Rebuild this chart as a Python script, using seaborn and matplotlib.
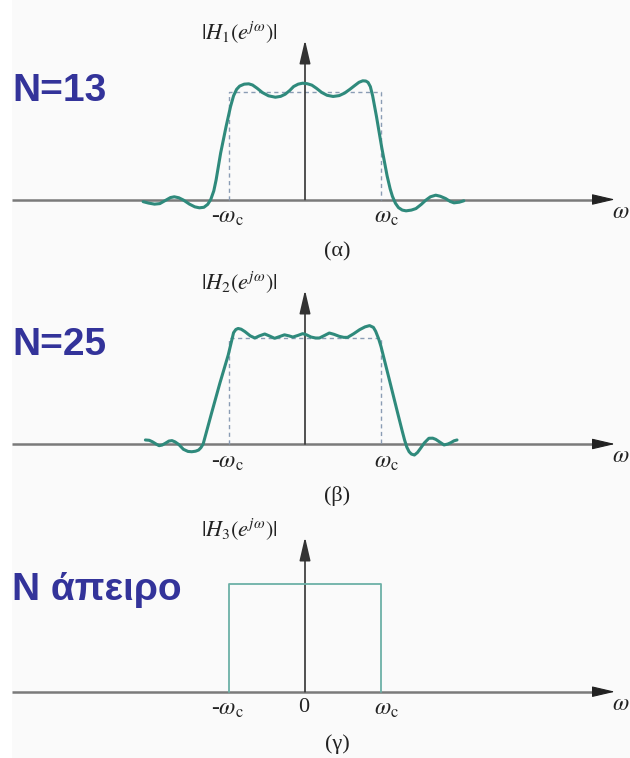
import matplotlib
matplotlib.use("Agg")
import matplotlib.pyplot as plt
import seaborn as sns
import pandas as pd

sns.set_theme(style="white")
plt.rcParams["mathtext.fontset"] = "stix"
plt.rcParams["font.family"] = ["Liberation Serif", "DejaVu Serif"]

# Frequency axis in units of the cutoff ω_c; magnitudes normalised to the passband level.
omega_13 = [-2.13, -2.06, -1.98, -1.91, -1.83, -1.77, -1.72, -1.66, -1.60, -1.52,
            -1.45, -1.39, -1.33, -1.28, -1.24, -1.20, -1.17, -1.11, -1.04, -0.98,
            -0.94, -0.90, -0.86, -0.80, -0.74, -0.69, -0.63, -0.56, -0.48, -0.39,
            -0.32, -0.26, -0.20, -0.15, -0.09, -0.03, 0.03, 0.09, 0.15, 0.22,
            0.29, 0.37, 0.45, 0.52, 0.59, 0.65, 0.71, 0.76, 0.80, 0.83,
            0.86, 0.89, 0.94, 1.01, 1.08, 1.12, 1.15, 1.19, 1.23, 1.28,
            1.33, 1.40, 1.46, 1.53, 1.59, 1.65, 1.72, 1.78, 1.85, 1.91,
            1.96, 2.03, 2.09]
mag_13 = [-0.02, -0.033, -0.043, -0.038, -0.006, 0.018, 0.025, 0.016, -0.005, -0.043,
          -0.068, -0.077, -0.072, -0.045, 0.0, 0.08, 0.18, 0.43, 0.67, 0.86,
          0.96, 1.02, 1.05, 1.068, 1.071, 1.06, 1.03, 0.99, 0.96, 0.947,
          0.955, 0.975, 1.01, 1.046, 1.068, 1.077, 1.072, 1.059, 1.03, 0.991,
          0.965, 0.954, 0.962, 0.985, 1.02, 1.053, 1.085, 1.099, 1.097, 1.084,
          1.045, 0.96, 0.77, 0.48, 0.22, 0.10, 0.03, -0.035, -0.075, -0.098,
          -0.105, -0.098, -0.084, -0.045, -0.006, 0.025, 0.04, 0.03, 0.009, -0.018,
          -0.031, -0.025, -0.012]

omega_25 = [-2.10, -2.05, -2.01, -1.96, -1.92, -1.88, -1.84, -1.79, -1.75, -1.71,
            -1.66, -1.60, -1.54, -1.49, -1.44, -1.40, -1.37, -1.34, -1.23, -1.12,
            -1.01, -0.97, -0.94, -0.91, -0.88, -0.84, -0.79, -0.72, -0.66, -0.60,
            -0.53, -0.47, -0.40, -0.34, -0.27, -0.21, -0.16, -0.09, -0.03, 0.02,
            0.08, 0.14, 0.19, 0.26, 0.32, 0.38, 0.45, 0.51, 0.56, 0.64,
            0.72, 0.79, 0.85, 0.90, 0.93, 0.97, 1.00, 1.11, 1.22, 1.28,
            1.31, 1.34, 1.37, 1.40, 1.44, 1.48, 1.52, 1.57, 1.63, 1.68,
            1.72, 1.78, 1.83, 1.88, 1.92, 1.96, 2.00]
mag_25 = [0.038, 0.035, 0.022, 0.0, -0.016, -0.01, 0.006, 0.028, 0.032, 0.02,
          -0.005, -0.05, -0.07, -0.073, -0.068, -0.057, -0.035, 0.0, 0.29, 0.574,
          0.84, 0.96, 1.05, 1.08, 1.09, 1.083, 1.06, 1.02, 1.0, 1.02,
          1.038, 1.02, 0.997, 1.012, 1.03, 1.02, 1.009, 1.025, 1.041, 1.03,
          1.009, 1.0, 1.0, 1.025, 1.047, 1.035, 1.016, 1.006, 1.006, 1.04,
          1.079, 1.105, 1.117, 1.1, 1.063, 0.99, 0.92, 0.606, 0.29, 0.12,
          0.038, -0.03, -0.073, -0.095, -0.104, -0.08, -0.041, 0.01, 0.054, 0.055,
          0.044, 0.015, -0.009, 0.0, 0.013, 0.03, 0.038]

omega_ideal = [-1.0, -1.0, 1.0, 1.0]
mag_ideal = [0.0, 1.0, 1.0, 0.0]

panel_tags = ["(α)", "(β)", "(γ)"]
n_labels = ["N=13", "N=25", "N άπειρο"]
y_labels = [r"$|H_1(e^{j\omega})|$", r"$|H_2(e^{j\omega})|$", r"$|H_3(e^{j\omega})|$"]

W, H = 630, 758
fig = plt.figure(figsize=(W / 100, H / 100), dpi=100)
fig.patch.set_facecolor("#fafafa")
fig.patches.append(plt.Rectangle((0, 0), 12 / W, 1, transform=fig.transFigure,
                                 facecolor="white", edgecolor="none", zorder=-1))

X0, XS = 305, 76.0  # pixel of ω = 0 and pixels per ω_c
# (band top px, band bottom px, baseline px, px per unit, arrow tip px)
bands = [(0, 258, 199.5, 108.0, 40),
         (258, 505, 444.0, 106.0, 290),
         (505, 758, 691.7, 107.4, 537)]

curve_col = "#2f8a7c"
ideal_col = "#6cb0a6"
dash_col = "#8a9cb4"
axis_col = "#7a7a7a"
label_col = "#33339a"
text_col = "#222222"


def fx(px):
    return px / W


def fy(py):
    return 1 - py / H


for i, (top, bot, base, scale, tip) in enumerate(bands):
    ax = fig.add_axes([0, 1 - bot / H, 1, (bot - top) / H])
    ax.set_xlim(-X0 / XS, (W - X0) / XS)
    ax.set_ylim(-(bot - base) / scale, (base - top) / scale)
    ax.axis("off")
    ax.patch.set_alpha(0)

    # horizontal and vertical axes with arrow heads
    ax.plot([(12 - X0) / XS, (600 - X0) / XS], [0, 0], color=axis_col, lw=1.8,
            solid_capstyle="butt", zorder=1)
    ax.annotate("", xy=((615 - X0) / XS, 0), xytext=((596 - X0) / XS, 0),
                arrowprops=dict(arrowstyle="-|>,head_length=1.2,head_width=0.28",
                                color="#222222", lw=0.8, shrinkA=0, shrinkB=0))
    ax.annotate("", xy=(0, (base - tip) / scale), xytext=(0, 0),
                arrowprops=dict(arrowstyle="-|>,head_length=1.2,head_width=0.28",
                                color="#333333", lw=1.2, shrinkA=0, shrinkB=0))

    if i < 2:
        # ideal passband drawn dashed behind the truncated response
        ax.plot([-1, -1, 1, 1], [0, 1, 1, 0], color=dash_col, lw=1.0,
                ls=(0, (3, 2.5)), zorder=2)
        om, mg = (omega_13, mag_13) if i == 0 else (omega_25, mag_25)
        df = pd.DataFrame({"omega": om, "mag": mg})
        sns.lineplot(data=df, x="omega", y="mag", ax=ax, sort=False, estimator=None,
                     color=curve_col, lw=2.2, zorder=3)
    else:
        df = pd.DataFrame({"omega": omega_ideal, "mag": mag_ideal})
        sns.lineplot(data=df, x="omega", y="mag", ax=ax, sort=False, estimator=None,
                     color=ideal_col, lw=1.3, zorder=3)
    ax.set_xlabel("")
    ax.set_ylabel("")
    for ln in ax.get_lines():
        ln.set_solid_joinstyle("round")

    # text labels
    lab_y = base + 18
    fig.text(fx(227), fy(lab_y), r"-$\omega_{\rm c}$", ha="center", va="center",
             fontsize=17, color=text_col)
    fig.text(fx(386), fy(lab_y), r"$\omega_{\rm c}$", ha="center", va="center",
             fontsize=17, color=text_col)
    if i == 2:
        fig.text(fx(304), fy(lab_y - 2), "0", ha="center", va="center",
                 fontsize=16, color=text_col)
    fig.text(fx(629), fy(base + 13), r"$\omega$", ha="right", va="center",
             fontsize=17, color=text_col)
    fig.text(fx(337), fy(base + 52), panel_tags[i], ha="center", va="center",
             fontsize=16, color=text_col)
    fig.text(fx(239), fy(tip - 7), y_labels[i], ha="center", va="center",
             fontsize=16, color=text_col)

n_pos = [(12, 91), (12, 345), (12, 590)]
for (px, py), txt in zip(n_pos, n_labels):
    fig.text(fx(px), fy(py), txt, ha="left", va="center", fontsize=28,
             fontweight="bold", color=label_col,
             family=["Liberation Sans", "DejaVu Sans"])

fig.savefig("out.png", dpi=100, facecolor=fig.get_facecolor())
